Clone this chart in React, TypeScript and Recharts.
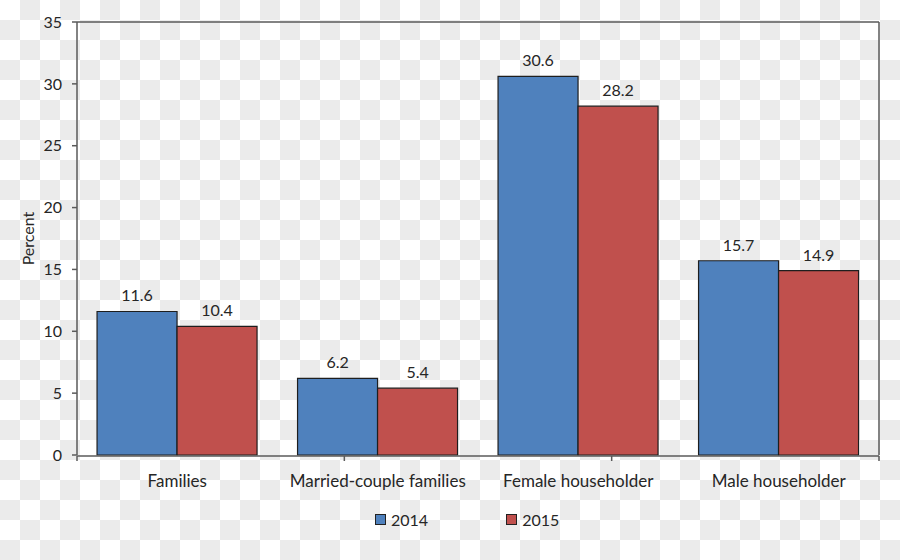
import React from "react";
import {
  Bar,
  BarChart,
  LabelList,
  Legend,
  XAxis,
  YAxis,
} from "recharts";

const categories = [
  "Families",
  "Married-couple families",
  "Female householder",
  "Male householder",
];
const values2014 = [11.6, 6.2, 30.6, 15.7];
const values2015 = [10.4, 5.4, 28.2, 14.9];
const yTicks = [0, 5, 10, 15, 20, 25, 30, 35];
const edgeTicks = [0, 1, 2, 3, 4];

const data = categories.map((name, i) => ({
  name,
  y2014: values2014[i],
  y2015: values2015[i],
}));

const FONT = "Lato, 'Noto Sans', sans-serif";
const TEXT = "#262626";
const AXIS = "#5a5a5a";
const BLUE = "#4F81BD";
const RED = "#C0504D";
const CHECK = "#ebebeb";

// transparent-image checkerboard behind the chart
const Checker = () => (
  <svg
    width={900}
    height={560}
    style={{ position: "absolute", left: 0, top: 0 }}
  >
    <defs>
      <pattern id="chk" width={40} height={40} patternUnits="userSpaceOnUse">
        <rect width={40} height={40} fill="#ffffff" />
        <rect x={20} y={0} width={20} height={20} fill={CHECK} />
        <rect x={0} y={20} width={20} height={20} fill={CHECK} />
      </pattern>
    </defs>
    <rect width={900} height={560} fill="url(#chk)" />
  </svg>
);

const LegendBox = () => (
  <div
    style={{
      display: "flex",
      fontFamily: FONT,
      fontSize: 16,
      color: TEXT,
      alignItems: "center",
    }}
  >
    {[
      { label: "2014", color: BLUE },
      { label: "2015", color: RED },
    ].map((it, i) => (
      <div
        key={it.label}
        style={{ display: "flex", alignItems: "center", marginRight: i === 0 ? 78 : 0 }}
      >
        <span
          style={{
            width: 9,
            height: 9,
            background: it.color,
            border: "1px solid #222",
            marginRight: 5,
            display: "inline-block",
          }}
        />
        <span>{it.label}</span>
      </div>
    ))}
  </div>
);

export default function App() {
  return (
    <div style={{ position: "absolute", left: 0, top: 0, width: 900, height: 560 }}>
      <Checker />
      <div style={{ position: "absolute", left: 0, top: 0 }}>
        <BarChart
          width={900}
          height={560}
          data={data}
          margin={{ top: 21, right: 20, bottom: 103, left: 0 }}
          barCategoryGap="10%"
          barGap={0}
        >
          <XAxis
            xAxisId="edges"
            type="number"
            domain={[0, 4]}
            ticks={edgeTicks}
            height={1}
            axisLine={{ stroke: AXIS, strokeWidth: 1.5 }}
            tickLine={{ stroke: AXIS, strokeWidth: 1.5 }}
            tickSize={5}
            tickFormatter={() => ""}
            allowDataOverflow
          />
          <XAxis
            dataKey="name"
            height={1}
            axisLine={false}
            tickLine={false}
            tickMargin={14}
            interval={0}
            tick={{ fill: TEXT, fontSize: 17, fontFamily: FONT }}
          />
          <XAxis
            xAxisId="top"
            dataKey="name"
            orientation="top"
            height={1}
            tick={false}
            tickLine={false}
            axisLine={{ stroke: AXIS, strokeWidth: 1.5 }}
          />
          <YAxis
            width={77}
            domain={[0, 35]}
            ticks={yTicks}
            tickSize={5}
            tickMargin={10}
            axisLine={{ stroke: AXIS, strokeWidth: 1.5 }}
            tickLine={{ stroke: AXIS, strokeWidth: 1.5 }}
            tick={{ fill: TEXT, fontSize: 16, fontFamily: FONT }}
            label={{
              content: (props: any) => {
                const vb = props.viewBox || { y: 22, height: 434 };
                const cy = vb.y + vb.height / 2;
                return (
                  <text
                    x={27}
                    y={cy}
                    transform={`rotate(-90, 27, ${cy})`}
                    textAnchor="middle"
                    dominantBaseline="central"
                    fill={TEXT}
                    fontSize={16}
                    fontFamily={FONT}
                  >
                    Percent
                  </text>
                );
              },
            }}
          />
          <YAxis
            yAxisId="right"
            orientation="right"
            width={1}
            domain={[0, 35]}
            tick={false}
            tickLine={false}
            axisLine={{ stroke: AXIS, strokeWidth: 1.5 }}
          />
          <Legend
            verticalAlign="middle"
            align="center"
            layout="horizontal"
            wrapperStyle={{ top: 510, left: 375, width: 300, height: 20 }}
            content={() => <LegendBox />}
          />
          <Bar
            dataKey="y2014"
            name="2014"
            fill={BLUE}
            stroke="#1e1e1e"
            strokeWidth={1.2}
            isAnimationActive={false}
          >
            <LabelList
              dataKey="y2014"
              position="top"
              offset={10}
              fill={TEXT}
              fontSize={16}
              fontFamily={FONT}
            />
          </Bar>
          <Bar
            dataKey="y2015"
            name="2015"
            fill={RED}
            stroke="#1e1e1e"
            strokeWidth={1.2}
            isAnimationActive={false}
          >
            <LabelList
              dataKey="y2015"
              position="top"
              offset={10}
              fill={TEXT}
              fontSize={16}
              fontFamily={FONT}
            />
          </Bar>
        </BarChart>
      </div>
    </div>
  );
}
